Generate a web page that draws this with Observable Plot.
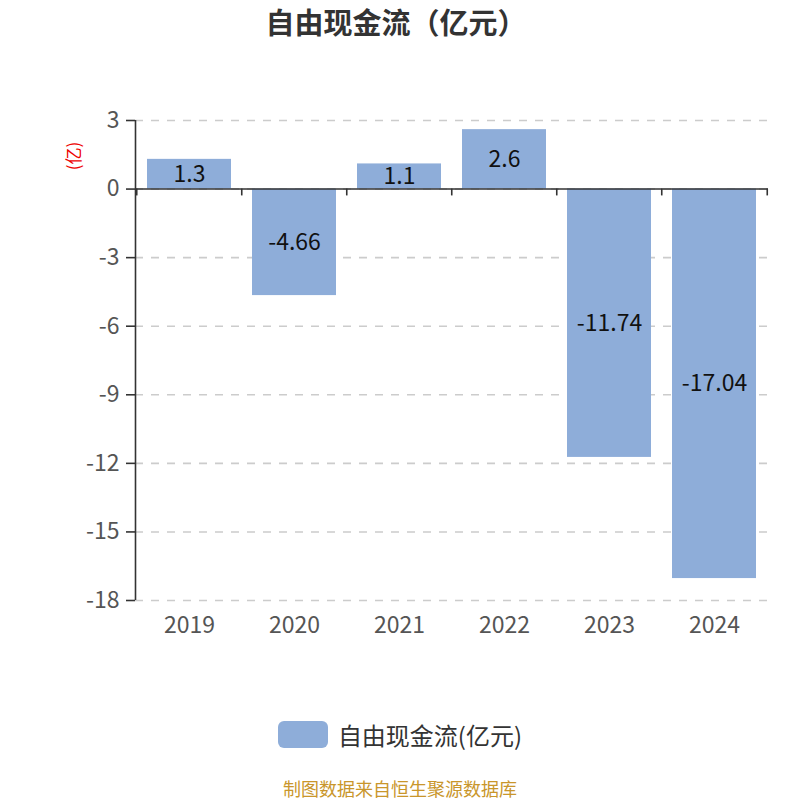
<!DOCTYPE html>
<html><head><meta charset="utf-8">
<script src="https://cdn.jsdelivr.net/npm/d3@7"></script>
<script src="https://cdn.jsdelivr.net/npm/@observablehq/plot@0.6"></script>
<style>
body{margin:0;background:#fff;font-family:"Noto Sans CJK SC","Noto Sans",sans-serif;}
#wrap{position:relative;width:800px;height:800px;overflow:hidden;}
#title{position:absolute;top:0px;left:-4px;width:800px;text-align:center;font-size:29px;font-weight:bold;color:#333;}
#ylab{position:absolute;left:56px;top:144px;font-size:17px;line-height:24px;color:#e00;transform:rotate(-90deg);transform-origin:center;width:34px;text-align:center;z-index:2;}
#chart{position:absolute;top:60px;left:0;z-index:1;}
#legend{position:absolute;top:717px;left:0;width:800px;display:flex;justify-content:center;align-items:center;font-size:24px;color:#333;}
#legend .sw{width:50px;height:27px;border-radius:6px;background:#8eadd9;margin-right:10px;}
#caption{position:absolute;top:775px;left:0;width:800px;text-align:center;font-size:18px;color:#c9962b;}
</style></head>
<body><div id="wrap">
<div id="title">自由现金流（亿元）</div>
<div id="chart"></div>
<div id="ylab">(亿)</div>
<div id="legend"><div class="sw"></div><span>自由现金流(亿元)</span></div>
<div id="caption">制图数据来自恒生聚源数据库</div>
</div>
<script>
const years = ["2019","2020","2021","2022","2023","2024"];
const values = [1.3, -4.66, 1.1, 2.6, -11.74, -17.04];
const yTicks = [3, 0, -3, -6, -9, -12, -15, -18];
const seriesName = "自由现金流(亿元)";

const data = years.map((y, i) => ({year: y, value: values[i]}));
const W = 800, H = 590, mL = 135, mR = 32, mT = 60, mB = 50;
const plotW = W - mL - mR;
const step = plotW / years.length;
const barColor = "#8eadd9";
const fontFam = '"Noto Sans CJK SC","Noto Sans",sans-serif';

const chart = Plot.plot({
  width: W, height: H,
  marginLeft: mL, marginRight: mR, marginTop: mT, marginBottom: mB,
  style: {fontFamily: fontFam, fontSize: "23px", color: "#555", background: "transparent"},
  x: {domain: years, paddingInner: 0.2, paddingOuter: 0.1, label: null},
  y: {domain: [-18, 3], label: null},
  marks: [
    Plot.gridY(yTicks, {stroke: "#ccc", strokeOpacity: 1, strokeDasharray: "8,8", strokeWidth: 1.6}),
    Plot.barY(data, {x: "year", y: "value", fill: barColor}),
    Plot.ruleY([0], {stroke: "#333", strokeWidth: 1.6}),
    Plot.ruleX(years, {x: d => d, y1: 0, y2: -0.3, dx: -step/2, stroke: "#333", strokeWidth: 1.6}),
    Plot.ruleX(years.slice(-1), {x: d => d, y1: 0, y2: -0.3, dx: step/2, stroke: "#333", strokeWidth: 1.6}),
    Plot.axisY({ticks: yTicks, tickFormat: d => String(d), tickSize: 9, tickPadding: 7, fill: "#555", stroke: "#333", strokeWidth: 1.6, fontSize: 23, label: null}),
    Plot.ruleX([0], {x: null, y1: -18, y2: 3, dx: -plotW/2, stroke: "#333", strokeWidth: 1.6}),
    Plot.axisX({tickSize: 0, tickPadding: 16, fill: "#555", fontSize: 23, label: null}),
    Plot.text(data, {x: "year", y: d => d.value / 2, text: d => String(d.value), fontSize: 23, fill: "#111"})
  ]
});
document.getElementById("chart").appendChild(chart);
</script>
</body></html>
